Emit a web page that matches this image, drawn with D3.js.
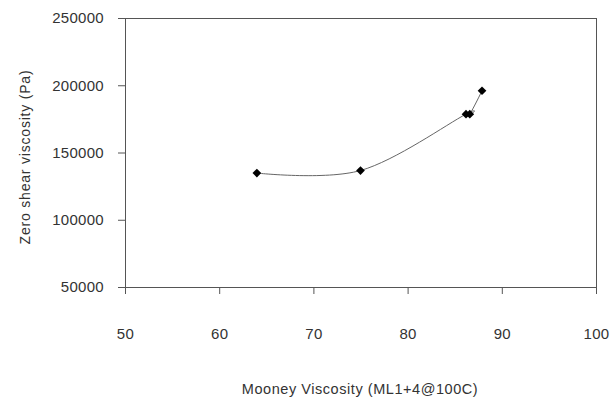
<!DOCTYPE html>
<html>
<head>
<meta charset="utf-8">
<script src="https://cdn.jsdelivr.net/npm/d3@7"></script>
<style>
  body { margin: 0; background: #fff; }
  svg text { font-family: "Liberation Sans", Arial, sans-serif; fill: #333; }
</style>
</head>
<body>
<div id="chart"></div>
<script>
// Datos
const mooney = [64.0, 75.0, 86.2, 86.6, 87.9];
const zeroShear = [134700, 136600, 178500, 178500, 195900];
const xTicks = [50, 60, 70, 80, 90, 100];
const yTicks = [50000, 100000, 150000, 200000, 250000];

const xTitle = "Mooney Viscosity (ML1+4@100C)";
const yTitle = "Zero shear viscosity (Pa)";

function renderChart() {
    const W = 610, H = 398;
    const margin = {top: 18, right: 14, bottom: 111, left: 125};
    const width = W - margin.left - margin.right;
    const height = H - margin.top - margin.bottom;

    const svg = d3.select("#chart")
        .append("svg")
        .attr("width", W)
        .attr("height", H);

    const g = svg.append("g")
        .attr("transform", `translate(${margin.left}, ${margin.top})`);

    const x = d3.scaleLinear().domain([50, 100]).range([0, width]);
    const y = d3.scaleLinear().domain([50000, 250000]).range([height, 0]);

    // Marco del area de trazado
    g.append("rect")
        .attr("x", 0).attr("y", 0)
        .attr("width", width).attr("height", height)
        .attr("fill", "none")
        .attr("stroke", "#555")
        .attr("stroke-width", 1)
        .attr("shape-rendering", "crispEdges");

    // Eje X
    const xAxis = g.append("g")
        .attr("transform", `translate(0, ${height})`)
        .call(d3.axisBottom(x).tickValues(xTicks).tickSize(7).tickPadding(34).tickFormat(d3.format("d")));
    xAxis.select(".domain").remove();
    xAxis.selectAll("line").attr("stroke", "#555");
    xAxis.selectAll("text").style("font-size", "15px").style("letter-spacing", "0.3px").attr("fill", "#333");

    // Eje Y
    const yAxis = g.append("g")
        .call(d3.axisLeft(y).tickValues(yTicks).tickSize(7).tickPadding(14).tickFormat(d3.format("d")));
    yAxis.select(".domain").remove();
    yAxis.selectAll("line").attr("stroke", "#555");
    yAxis.selectAll("text").style("font-size", "15px").style("letter-spacing", "0.3px").attr("fill", "#333");

    // Linea suavizada
    const points = mooney.map((m, i) => ({x: m, y: zeroShear[i]}));
    const line = d3.line()
        .x(d => x(d.x))
        .y(d => y(d.y))
        .curve(d3.curveCardinal.tension(0));

    g.append("path")
        .datum(points)
        .attr("fill", "none")
        .attr("stroke", "#666")
        .attr("stroke-width", 1)
        .attr("d", line);

    // Marcadores en forma de rombo
    g.selectAll(".marker")
        .data(points)
        .enter()
        .append("path")
        .attr("class", "marker")
        .attr("d", d3.symbol(d3.symbolSquare, 38))
        .attr("transform", d => `translate(${x(d.x)}, ${y(d.y)}) rotate(45)`)
        .attr("fill", "#000");

    // Titulos de ejes
    svg.append("text")
        .attr("x", 360)
        .attr("y", 394)
        .attr("text-anchor", "middle")
        .style("font-size", "14.5px")
        .style("letter-spacing", "0.55px")
        .text(xTitle);

    svg.append("text")
        .attr("transform", "translate(30, 157) rotate(-90)")
        .attr("text-anchor", "middle")
        .style("font-size", "14px")
        .style("letter-spacing", "0.8px")
        .text(yTitle);
}

renderChart();
</script>
</body>
</html>
